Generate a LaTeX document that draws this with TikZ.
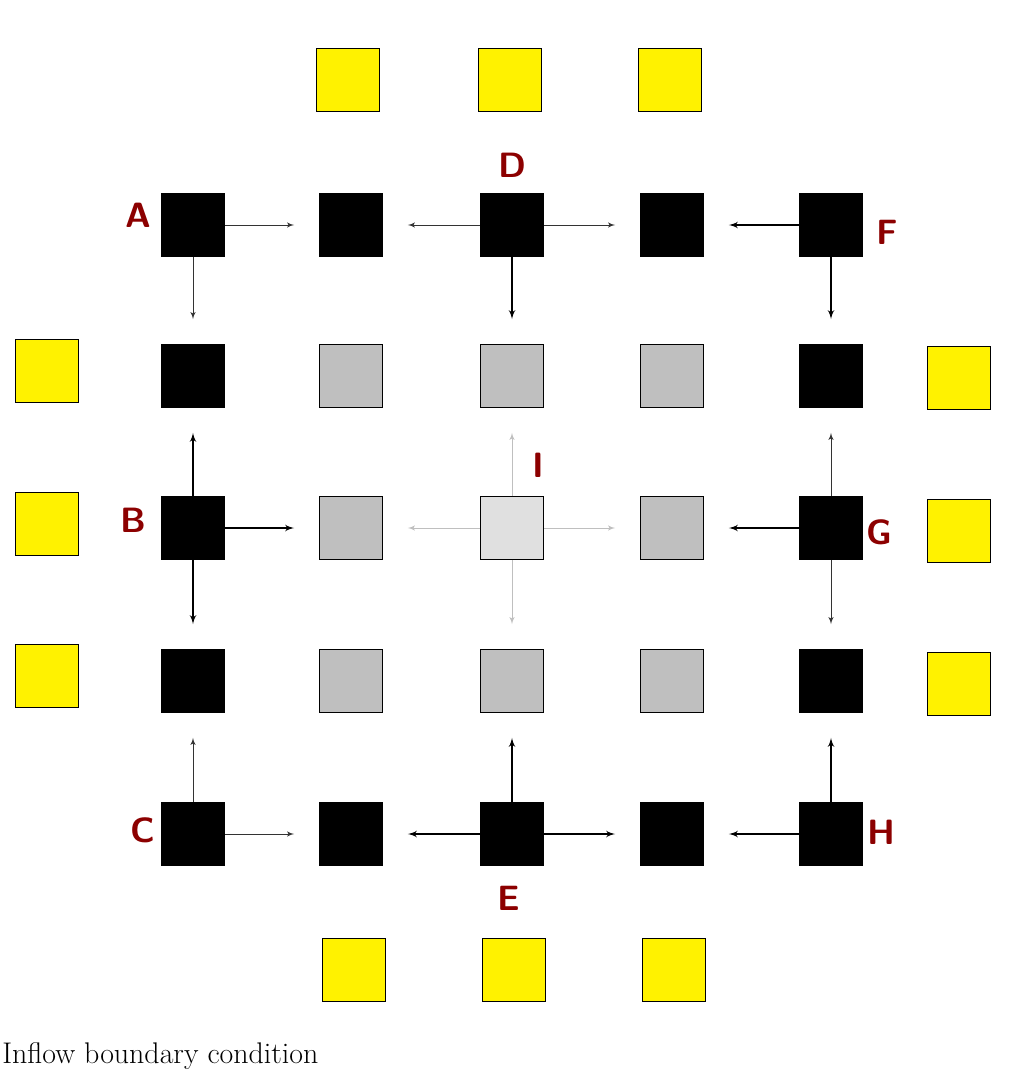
\documentclass[tikz,border=0pt]{standalone}
\usetikzlibrary{arrows}
\begin{document}
\begin{tikzpicture}[x=0.02cm,y=-0.02cm]

\tikzset{cell/.style = {shape=rectangle,draw,minimum size=1.26cm,inner sep=0pt}}
\tikzset{wall/.style = {cell,fill=black}}
\tikzset{interior/.style = {cell,fill=black!25}}
\tikzset{ghost/.style = {cell,fill=yellow}}
\tikzset{letter/.style = {text=red!55!black,font=\sffamily\bfseries\fontsize{20}{20}\selectfont}}
\tikzset{edge/.style = {->,> = latex',thick,shorten >=0.5cm}}
\tikzset{weak/.style = {->,> = latex',draw=black!80,thin,shorten >=0.5cm}}
\tikzset{faint/.style = {->,> = latex',draw=black!25,thin,shorten >=0.5cm}}

\useasboundingbox (0,0) rectangle (1013,1082);

% ghost cells
\node[ghost] (t1) at (348,80) {};
\node[ghost] (t2) at (510,80) {};
\node[ghost] (t3) at (670,80) {};
\node[ghost] (b1) at (354,970) {};
\node[ghost] (b2) at (514,970) {};
\node[ghost] (b3) at (674,970) {};
\node[ghost] (l1) at (47,371) {};
\node[ghost] (l2) at (47,524) {};
\node[ghost] (l3) at (47,676) {};
\node[ghost] (r1) at (959,378) {};
\node[ghost] (r2) at (959,531) {};
\node[ghost] (r3) at (959,684) {};

% grid cells
\node[wall] (a) at (193,225) {};
\node[wall] (n12) at (351,225) {};
\node[wall] (d) at (512,225) {};
\node[wall] (n14) at (672,225) {};
\node[wall] (f) at (831,225) {};
\node[wall] (n21) at (193,376) {};
\node[interior] (n22) at (351,376) {};
\node[interior] (n23) at (512,376) {};
\node[interior] (n24) at (672,376) {};
\node[wall] (n25) at (831,376) {};
\node[wall] (b) at (193,528) {};
\node[interior] (n32) at (351,528) {};
\node[cell,fill=black!12] (i) at (512,528) {};
\node[interior] (n34) at (672,528) {};
\node[wall] (g) at (831,528) {};
\node[wall] (n41) at (193,681) {};
\node[interior] (n42) at (351,681) {};
\node[interior] (n43) at (512,681) {};
\node[interior] (n44) at (672,681) {};
\node[wall] (n45) at (831,681) {};
\node[wall] (c) at (193,834) {};
\node[wall] (n52) at (351,834) {};
\node[wall] (e) at (512,834) {};
\node[wall] (n54) at (672,834) {};
\node[wall] (h) at (831,834) {};

% labels
\node[letter] at (138,215) {A};
\node[letter] at (512,165) {D};
\node[letter] at (887,232) {F};
\node[letter] at (133,520) {B};
\node[letter] at (538,465) {I};
\node[letter] at (879,532) {G};
\node[letter] at (143,830) {C};
\node[letter] at (881,832) {H};
\node[letter] at (509,898) {E};

% fluxes
\draw[weak] (a) -- (n12.west);
\draw[weak] (a) -- (n21.north);
\draw[weak] (d) -- (n12.east);
\draw[weak] (d) -- (n14.west);
\draw[edge] (d) -- (n23.north);
\draw[edge] (f) -- (n14.east);
\draw[edge] (f) -- (n25.north);
\draw[edge] (b) -- (n21.south);
\draw[edge] (b) -- (n32.west);
\draw[edge] (b) -- (n41.north);
\draw[faint] (i) -- (n23.south);
\draw[faint] (i) -- (n32.east);
\draw[faint] (i) -- (n34.west);
\draw[faint] (i) -- (n43.north);
\draw[weak] (g) -- (n25.south);
\draw[edge] (g) -- (n34.east);
\draw[weak] (g) -- (n45.north);
\draw[weak] (c) -- (n41.south);
\draw[weak] (c) -- (n52.west);
\draw[edge] (e) -- (n52.east);
\draw[edge] (e) -- (n54.west);
\draw[edge] (e) -- (n43.south);
\draw[edge] (h) -- (n54.east);
\draw[edge] (h) -- (n45.south);

% caption
\node[anchor=west,inner sep=0pt,font=\fontsize{17}{17}\selectfont] (cap) at (2,1056) {Inflow boundary condition};

\end{tikzpicture}
\end{document}
